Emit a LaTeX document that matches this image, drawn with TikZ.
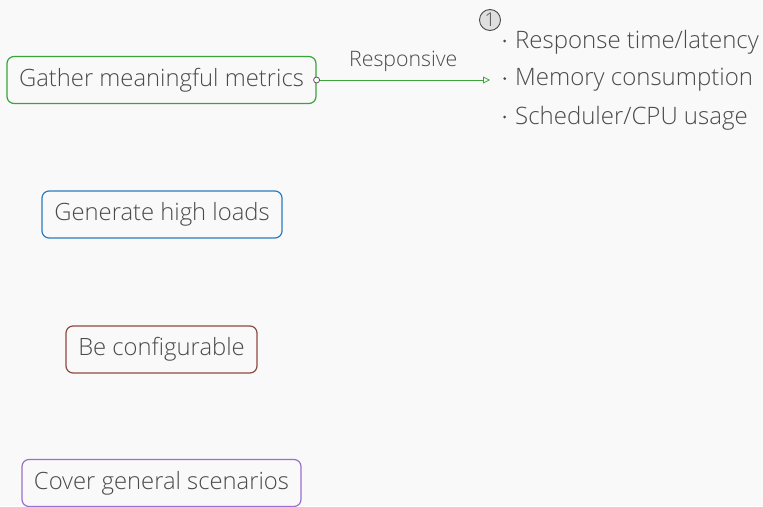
\documentclass[tikz,border=0pt]{standalone}
\usepackage{fontspec}
\setmainfont{Open Sans Light}
\usetikzlibrary{arrows.meta}
\definecolor{bg}{HTML}{F9F9F9}
\definecolor{ink}{HTML}{4A4A4A}
\definecolor{cgreen}{HTML}{3AA63A}
\definecolor{cblue}{HTML}{2B7BC0}
\definecolor{cbrown}{HTML}{8E4A3E}
\definecolor{cpurple}{HTML}{9A70CC}
\tikzset{
  topic/.style={draw=#1, line width=1.2pt, rounded corners=7pt, fill=bg,
    text=ink, font=\fontsize{23.8}{27}\selectfont, inner xsep=6pt,
    minimum height=47pt, anchor=center},
  item/.style={text=ink, font=\fontsize{24}{27}\selectfont, anchor=west, inner sep=0pt},
}
\newcommand\bulletdot{\raisebox{0.45ex}{\tikz\fill[ink] (0,0) circle (1.5pt);}}
\begin{document}
\begin{tikzpicture}[x=1pt,y=-1pt]
\fill[bg] (0,0) rectangle (763,506);
\useasboundingbox (0,0) rectangle (763,506);

\node[topic=cgreen, minimum width=309pt] (gather) at (161.5,80) {\raisebox{-1.5pt}{Gather meaningful metrics}};
\node[topic=cblue, minimum width=240pt] (gen) at (162,214.5) {\raisebox{-1.5pt}{Generate high loads}};
\node[topic=cbrown, minimum width=191pt] (conf) at (161.5,349.5) {\raisebox{-1.5pt}{Be configurable}};
\node[topic=cpurple, minimum width=279pt] (cover) at (161.5,483) {\raisebox{-1.5pt}{Cover general scenarios}};

\coordinate (tip) at (490,80);
\draw[cgreen, line width=0.8pt, -{Triangle[open, length=7pt, width=7pt]}] (gather.east) -- (tip)
  node[midway, above=5pt, text=ink, font=\fontsize{21.3}{24}\selectfont] {Responsive};
\draw[ink, fill=white, line width=0.7pt] (gather.east) circle (3pt);

\node[circle, draw=ink, fill=gray!25, line width=0.9pt, inner sep=0pt, minimum size=21pt,
  text=ink, font=\fontsize{19}{19}\selectfont] (num) at (490,20) {1};

\node[item] (i1) at (503,42) {\bulletdot\hspace{9pt}Response time/latency};
\node[item] (i2) at (503,80) {\bulletdot\hspace{9pt}Memory consumption};
\node[item] (i3) at (503,118) {\bulletdot\hspace{9pt}Scheduler/CPU usage};
\end{tikzpicture}
\end{document}
